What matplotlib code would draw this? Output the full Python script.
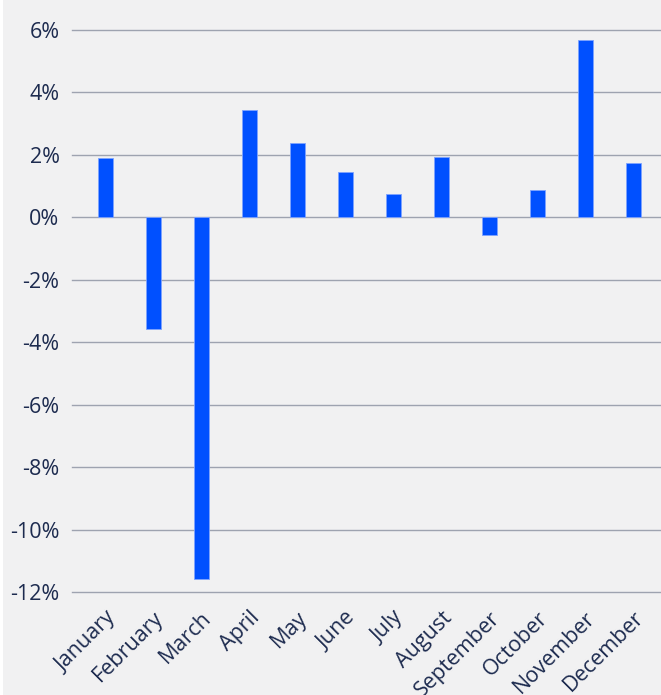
import matplotlib.pyplot as plt
from matplotlib.patches import Rectangle
from matplotlib.ticker import FuncFormatter

months = ['January', 'February', 'March', 'April', 'May', 'June', 'July',
          'August', 'September', 'October', 'November', 'December']
returns = [1.89, -3.56, -11.57, 3.43, 2.37, 1.44, 0.74, 1.92, -0.58, 0.87, 5.67, 1.73]

bg = '#f1f1f2'
text_color = '#1d2b4f'

plt.rcParams['font.family'] = ['Open Sans', 'DejaVu Sans']

fig = plt.figure(figsize=(6.61, 6.95), dpi=100, facecolor=bg)
# thin white strip on the left edge
fig.patches.append(Rectangle((0, 0), 0.005, 1, transform=fig.transFigure,
                             facecolor='white', edgecolor='none'))
ax = fig.add_axes([0.109, 0.148, 0.891, 0.809], facecolor=bg)

x = list(range(len(months)))
ax.bar(x, returns, width=0.31, color='#0050ff', edgecolor='#7fa3ff', linewidth=0.6, zorder=3)

ax.set_ylim(-12, 6)
ax.set_yticks([6, 4, 2, 0, -2, -4, -6, -8, -10, -12])
ax.yaxis.set_major_formatter(FuncFormatter(lambda v, pos: f'{v:.0f}%'))
ax.set_xlim(-0.69, 11.58)
ax.set_xticks(x)
ax.set_xticklabels(months, rotation=45, ha='right', rotation_mode='anchor')

ax.grid(axis='y', color='#9ea3b0', linewidth=1.0, zorder=0)
for line in ax.get_ygridlines():
    line.set_clip_on(False)
for s in ax.spines.values():
    s.set_visible(False)
ax.tick_params(axis='both', length=0, labelsize=15.5, colors=text_color)
ax.tick_params(axis='y', pad=9)
ax.tick_params(axis='x', pad=11)

fig.savefig('out.png', dpi=100, facecolor=bg)
